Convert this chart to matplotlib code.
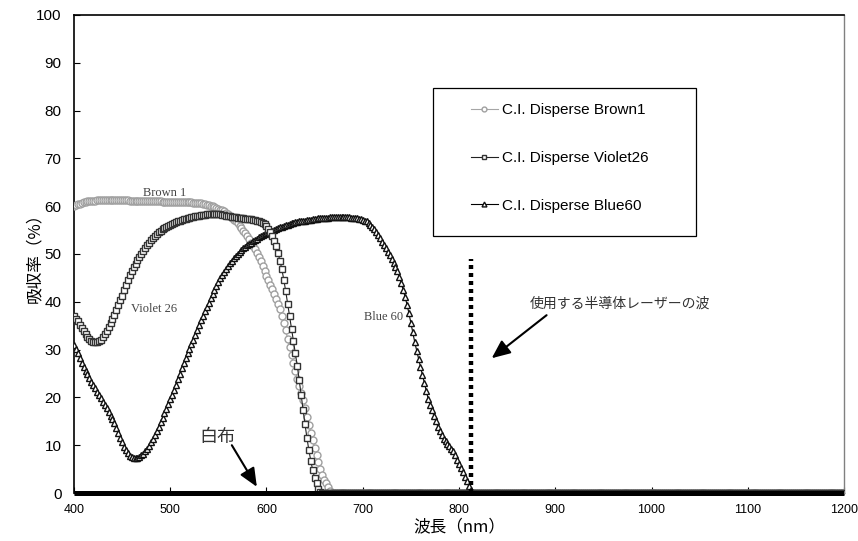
import matplotlib
matplotlib.use("Agg")
import matplotlib.pyplot as plt
from matplotlib.patches import Rectangle

plt.rcParams['font.family'] = ['Liberation Sans', 'Noto Sans CJK JP', 'DejaVu Sans']

# wavelength grid (nm), one reading every 2 nm
wavelength = list(range(400, 1201, 2))

# absorption (%), from 400 nm until each curve reaches 0
brown1 = [
    60.0, 60.2, 60.4, 60.5, 60.7, 60.8, 60.9, 61.0, 61.0, 61.1,   # 400-418
    61.1, 61.1, 61.2, 61.2, 61.2, 61.2, 61.2, 61.2, 61.2, 61.2,   # 420-438
    61.2, 61.2, 61.2, 61.2, 61.2, 61.2, 61.2, 61.2, 61.2, 61.1,   # 440-458
    61.1, 61.1, 61.1, 61.1, 61.1, 61.1, 61.1, 61.0, 61.0, 61.0,   # 460-478
    61.0, 61.0, 61.0, 61.0, 61.0, 61.0, 60.9, 60.9, 60.9, 60.9,   # 480-498
    60.9, 60.9, 60.9, 60.9, 60.9, 60.8, 60.8, 60.8, 60.8, 60.8,   # 500-518
    60.8, 60.8, 60.7, 60.7, 60.7, 60.6, 60.6, 60.5, 60.4, 60.3,   # 520-538
    60.2, 60.1, 60.0, 59.8, 59.7, 59.5, 59.3, 59.1, 58.9, 58.6,   # 540-558
    58.3, 58.0, 57.6, 57.2, 56.8, 56.4, 55.9, 55.4, 54.9, 54.3,   # 560-578
    53.7, 53.1, 52.4, 51.7, 51.0, 50.2, 49.4, 48.5, 47.4, 46.4,   # 580-598
    45.4, 44.5, 43.6, 42.6, 41.6, 40.6, 39.5, 38.4, 37.0, 35.5,   # 600-618
    34.0, 32.2, 30.6, 28.9, 27.3, 25.6, 23.9, 22.4, 20.9, 19.4,   # 620-638
    17.7, 15.9, 14.2, 12.6, 11.0, 9.5, 8.0, 6.4, 5.0, 3.8,        # 640-658
    2.8, 2.0, 1.2, 0.4, 0.0,                                      # 660-668
]

violet26 = [
    37.0, 36.5, 35.9, 35.2, 34.5, 33.8, 33.2, 32.6, 32.2, 31.8,   # 400-418
    31.6, 31.5, 31.6, 31.8, 32.1, 32.6, 33.2, 33.9, 34.7, 35.5,   # 420-438
    36.4, 37.3, 38.3, 39.3, 40.3, 41.3, 42.4, 43.5, 44.6, 45.6,   # 440-458
    46.5, 47.3, 48.0, 48.7, 49.4, 50.0, 50.7, 51.3, 51.9, 52.4,   # 460-478
    52.9, 53.4, 53.8, 54.2, 54.6, 54.9, 55.2, 55.5, 55.7, 55.9,   # 480-498
    56.1, 56.3, 56.5, 56.7, 56.8, 57.0, 57.1, 57.3, 57.4, 57.5,   # 500-518
    57.6, 57.7, 57.8, 57.9, 58.0, 58.0, 58.1, 58.2, 58.2, 58.3,   # 520-538
    58.3, 58.3, 58.4, 58.4, 58.4, 58.3, 58.3, 58.2, 58.1, 58.0,   # 540-558
    57.9, 57.9, 57.8, 57.7, 57.7, 57.6, 57.6, 57.5, 57.5, 57.4,   # 560-578
    57.4, 57.3, 57.3, 57.2, 57.1, 57.0, 56.9, 56.7, 56.5, 56.2,   # 580-598
    55.8, 55.3, 54.6, 53.8, 52.8, 51.6, 50.2, 48.6, 46.8, 44.6,   # 600-618
    42.2, 39.6, 37.0, 34.4, 31.8, 29.2, 26.6, 23.6, 20.6, 17.4,   # 620-638
    14.4, 11.6, 9.0, 6.8, 4.8, 3.2, 2.0, 0.9, 0.2, 0.0,           # 640-658
]

blue60 = [
    31.0, 30.1, 29.2, 28.2, 27.3, 26.4, 25.6, 24.8, 24.0, 23.3,   # 400-418
    22.6, 21.9, 21.2, 20.5, 19.8, 19.1, 18.4, 17.7, 17.0, 16.2,   # 420-438
    15.4, 14.6, 13.6, 12.6, 11.6, 10.6, 9.7, 8.9, 8.3, 7.8,       # 440-458
    7.5, 7.3, 7.3, 7.4, 7.6, 7.9, 8.2, 8.7, 9.3, 9.9,             # 460-478
    10.6, 11.3, 12.1, 13.0, 13.9, 14.8, 15.7, 16.7, 17.6, 18.6,   # 480-498
    19.6, 20.5, 21.5, 22.6, 23.8, 24.9, 26.1, 27.2, 28.2, 29.2,   # 500-518
    30.2, 31.2, 32.1, 33.1, 34.1, 35.1, 36.1, 37.1, 38.0, 38.9,   # 520-538
    39.8, 40.7, 41.6, 42.5, 43.3, 44.1, 44.9, 45.6, 46.3, 46.9,   # 540-558
    47.5, 48.1, 48.6, 49.1, 49.6, 50.0, 50.4, 50.8, 51.2, 51.5,   # 560-578
    51.8, 52.1, 52.4, 52.7, 53.0, 53.2, 53.5, 53.7, 53.9, 54.1,   # 580-598
    54.3, 54.5, 54.7, 54.9, 55.1, 55.3, 55.4, 55.6, 55.7, 55.9,   # 600-618
    56.0, 56.1, 56.2, 56.4, 56.5, 56.6, 56.7, 56.8, 56.9, 57.0,   # 620-638
    57.0, 57.1, 57.2, 57.2, 57.3, 57.4, 57.4, 57.5, 57.5, 57.5,   # 640-658
    57.6, 57.6, 57.6, 57.7, 57.7, 57.7, 57.7, 57.7, 57.7, 57.7,   # 660-678
    57.7, 57.7, 57.7, 57.7, 57.6, 57.6, 57.5, 57.5, 57.4, 57.3,   # 680-698
    57.2, 57.0, 56.8, 56.5, 56.1, 55.7, 55.2, 54.6, 54.0, 53.3,   # 700-718
    52.6, 51.9, 51.2, 50.4, 49.7, 48.9, 48.1, 47.3, 46.5, 45.2,   # 720-738
    43.9, 42.5, 41.0, 39.4, 37.6, 35.6, 33.6, 31.6, 29.8, 28.1,   # 740-758
    26.4, 24.7, 23.0, 21.3, 19.7, 18.5, 17.3, 16.1, 15.0, 13.9,   # 760-778
    13.0, 12.1, 11.4, 10.8, 10.3, 9.8, 9.3, 8.7, 7.9, 7.0,        # 780-798
    6.1, 5.2, 4.3, 3.4, 2.5, 1.5, 0.6, 0.0,                       # 800-814
]


def pad_zero(values):
    # every curve stays at 0 up to 1200 nm
    return values + [0.0] * (len(wavelength) - len(values))


brown1 = pad_zero(brown1)
violet26 = pad_zero(violet26)
blue60 = pad_zero(blue60)
white_cloth = [0.0] * len(wavelength)

series_labels = ["C.I. Disperse Brown1", "C.I. Disperse Violet26", "C.I. Disperse Blue60"]
laser_nm = 812
laser_top = 49

fig = plt.figure(figsize=(8.58, 5.41), dpi=100)
ax = fig.add_axes([0.0862, 0.0887, 0.8975, 0.8836])

ax.plot(wavelength, brown1, color="#a6a6a6", lw=0.8, marker="o", ms=5.0,
        mfc="white", mec="#a0a0a0", mew=1.0, label=series_labels[0], zorder=3)
ax.plot(wavelength, blue60, color="black", lw=0.8, marker="^", ms=5.0,
        mfc="white", mec="#111111", mew=1.0, label=series_labels[2], zorder=4)
ax.plot(wavelength, violet26, color="#222222", lw=0.8, marker="s", ms=4.6,
        mfc="white", mec="#333333", mew=1.0, label=series_labels[1], zorder=5)
# white cloth stays at 0 along the whole range, thick black line
ax.plot(wavelength, white_cloth, color="black", lw=3.6, solid_capstyle="butt",
        clip_on=False, zorder=6)

ax.vlines(laser_nm, 0, laser_top, colors="black", lw=3.2,
          linestyles=(0, (0.9, 0.9)), zorder=6)

ax.set_xlim(400, 1200)
ax.set_ylim(0, 100)
ax.set_xticks(range(400, 1201, 100))
ax.set_yticks(range(0, 101, 10))
ax.tick_params(axis="x", direction="in", length=4, width=0.8, labelsize=9, pad=8)
ax.tick_params(axis="y", direction="in", length=4, width=0.8, labelsize=11, pad=9)
for side in ["left", "top"]:
    ax.spines[side].set_linewidth(1.2)
    ax.spines[side].set_color("black")
ax.spines["right"].set_color("#808080")
ax.spines["right"].set_linewidth(1.0)
ax.spines["bottom"].set_linewidth(1.0)

ax.set_xlabel("波長（nm）", fontsize=12, family=["Noto Sans CJK JP"])
ax.xaxis.set_label_coords(0.5, -0.052)
ax.set_ylabel("吸収率（%）", fontsize=12, family=["Noto Sans CJK JP"])
ax.yaxis.set_label_coords(-0.04, 0.5)

# legend box, drawn separately so padding matches the original
ax.add_patch(Rectangle((0.466, 0.538), 0.342, 0.309, transform=ax.transAxes,
                       fill=True, facecolor="white", edgecolor="black", lw=0.9, zorder=7))
handles, labels = ax.get_legend_handles_labels()
order = [labels.index(s) for s in series_labels]
leg = ax.legend([handles[i] for i in order], [labels[i] for i in order],
                loc="upper left", bbox_to_anchor=(0.515, 0.815), frameon=False,
                fontsize=11, handlelength=1.8, handletextpad=0.25, labelspacing=2.2,
                borderpad=0, borderaxespad=0, markerscale=0.7)
leg.set_zorder(8)

serif = ["Liberation Serif", "DejaVu Serif"]
ax.text(494, 61.5, "Brown 1", fontsize=9, family=serif, color="#444444",
        ha="center", va="bottom", zorder=8)
ax.text(483, 38.5, "Violet 26", fontsize=9, family=serif, color="#444444",
        ha="center", va="center", zorder=8)
ax.text(722, 36.8, "Blue 60", fontsize=9, family=serif, color="#444444",
        ha="center", va="center", zorder=8)

jp = ["Noto Sans CJK JP"]
ax.text(549, 11.7, "白布", fontsize=13, family=jp, color="#333333",
        ha="center", va="center", zorder=8)
ax.annotate("", xy=(590, 1.3), xytext=(564, 10),
            arrowprops=dict(arrowstyle="-|>,head_length=0.8,head_width=0.35",
                            mutation_scale=14, color="black", lw=1.5,
                            shrinkA=0, shrinkB=0), zorder=8)
ax.text(967, 39.7, "使用する半導体レーザーの波", fontsize=10, family=jp,
        color="#333333", ha="center", va="center", zorder=8)
ax.annotate("", xy=(834, 28.2), xytext=(891, 37.2),
            arrowprops=dict(arrowstyle="-|>,head_length=0.8,head_width=0.35",
                            mutation_scale=14, color="black", lw=1.5,
                            shrinkA=0, shrinkB=0), zorder=8)

fig.savefig("out.png", dpi=100)
